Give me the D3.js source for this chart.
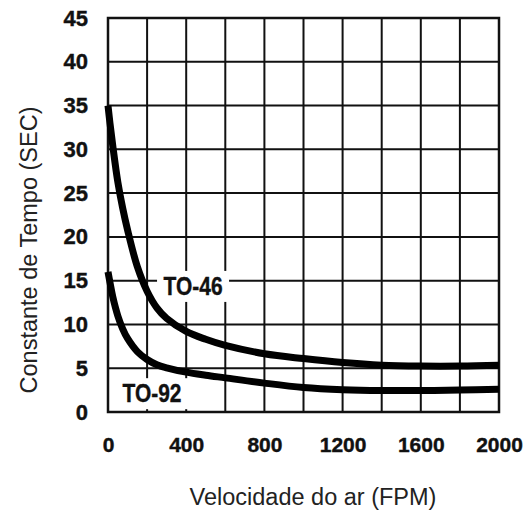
<!DOCTYPE html>
<html>
<head>
<meta charset="utf-8">
<script src="https://cdn.jsdelivr.net/npm/d3@7"></script>
<style>
  html, body { margin: 0; padding: 0; background: #fff; }
  svg { display: block; }
</style>
</head>
<body>
<svg id="chart"></svg>
<script>
// air velocity (FPM) vs time constant (SEC)
const fpm   = [0, 10, 25, 50, 75, 100, 150, 200, 250, 300, 400, 500, 600, 800, 1000, 1200, 1400, 1600, 1800, 2000];
const to46  = [35, 33, 30.3, 26.3, 23.3, 20.8, 16.6, 13.8, 11.9, 10.7, 9.2, 8.3, 7.6, 6.65, 6.1, 5.65, 5.35, 5.25, 5.25, 5.35];
const to92  = [16, 14.8, 13.1, 11, 9.5, 8.4, 6.9, 6.0, 5.4, 5.05, 4.55, 4.2, 3.9, 3.3, 2.8, 2.55, 2.45, 2.45, 2.5, 2.6];

const xTicks = [0, 400, 800, 1200, 1600, 2000];
const xGrid  = d3.range(0, 2001, 200);
const yTicks = [0, 5, 10, 15, 20, 25, 30, 35, 40, 45];

const seriesLabels = [
  { name: "TO-46", x: 435, y: 14.4 },
  { name: "TO-92", x: 225, y: 2.15 }
];

const xTitle = "Velocidade do ar (FPM)";
const yTitle = "Constante de Tempo (SEC)";

(() => {
  const width = 527, height = 510;
  const margin = { top: 18, right: 28, bottom: 98, left: 108 };
  const w = width - margin.left - margin.right;
  const h = height - margin.top - margin.bottom;

  const svg = d3.select("#chart").attr("width", width).attr("height", height);
  const g = svg.append("g").attr("transform", `translate(${margin.left},${margin.top})`);

  const x = d3.scaleLinear().domain([0, 2000]).range([0, w]);
  const y = d3.scaleLinear().domain([0, 45]).range([h, 0]);

  const font = "'Liberation Sans', Arial, sans-serif";

  // grid
  g.append("g").selectAll("line").data(xGrid).join("line")
    .attr("x1", d => x(d)).attr("x2", d => x(d))
    .attr("y1", 0).attr("y2", h)
    .attr("stroke", "#111").attr("stroke-width", 2);
  g.append("g").selectAll("line").data(yTicks).join("line")
    .attr("x1", 0).attr("x2", w)
    .attr("y1", d => y(d)).attr("y2", d => y(d))
    .attr("stroke", "#111").attr("stroke-width", 2);

  // frame
  g.append("rect").attr("width", w).attr("height", h)
    .attr("fill", "none").attr("stroke", "#111").attr("stroke-width", 2.5);

  const styleTicks = (s, size) => s.selectAll("text")
    .attr("font-family", font).attr("font-weight", "bold")
    .attr("font-size", size).attr("fill", "#111")
    .attr("stroke", "#111").attr("stroke-width", 0.4);

  // axes (labels only, grid drawn above)
  g.append("g").attr("transform", `translate(0,${h})`)
    .call(d3.axisBottom(x).tickValues(xTicks).tickFormat(d3.format("d")).tickSize(0).tickPadding(25))
    .call(s => s.select(".domain").remove())
    .call(s => styleTicks(s, 21));

  g.append("g")
    .call(d3.axisLeft(y).tickValues(yTicks).tickSize(0).tickPadding(20))
    .call(s => s.select(".domain").remove())
    .call(s => styleTicks(s, 22));

  // curve labels sit on white boxes that break the grid
  const lab = g.append("g").selectAll("g").data(seriesLabels).join("g")
    .attr("transform", d => `translate(${x(d.x)},${y(d.y)})`);
  lab.append("rect")
    .attr("x", -36).attr("y", -15).attr("width", 72).attr("height", 31)
    .attr("fill", "#fff");

  // curves
  const line = d3.line().curve(d3.curveCatmullRom.alpha(0.5))
    .x((d, i) => x(fpm[i])).y(d => y(d));
  [to46, to92].forEach(vals => {
    g.append("path").datum(vals)
      .attr("d", line)
      .attr("fill", "none")
      .attr("stroke", "#000")
      .attr("stroke-width", 7)
      .attr("stroke-linejoin", "round");
  });

  lab.append("text")
    .attr("text-anchor", "middle")
    .attr("dy", "0.36em")
    .attr("font-family", font).attr("font-weight", "bold")
    .attr("font-size", 25)
    .attr("textLength", 59).attr("lengthAdjust", "spacingAndGlyphs")
    .attr("fill", "#111")
    .attr("stroke", "#111").attr("stroke-width", 0.4)
    .text(d => d.name);

  // titles
  svg.append("text")
    .attr("x", 313).attr("y", 505)
    .attr("text-anchor", "middle")
    .attr("font-family", font).attr("font-size", 23.5)
    .attr("fill", "#222")
    .text(xTitle);

  svg.append("text")
    .attr("transform", "translate(37,250) rotate(-90)")
    .attr("text-anchor", "middle")
    .attr("font-family", font).attr("font-size", 23.5)
    .attr("fill", "#222")
    .text(yTitle);
})();
</script>
</body>
</html>
